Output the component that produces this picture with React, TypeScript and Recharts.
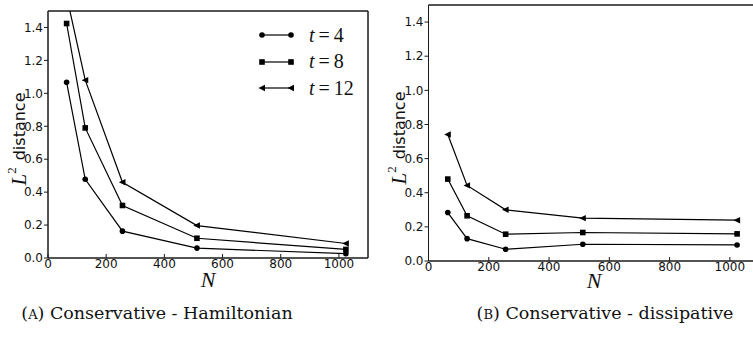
import React from 'react';
import { LineChart, Line, XAxis, YAxis, Legend, ReferenceArea } from 'recharts';

const nValues = [64, 128, 256, 512, 1024];
const xTicks = [0, 200, 400, 600, 800, 1000];
const yTicks = [0, 0.2, 0.4, 0.6, 0.8, 1.0, 1.2, 1.4];

// (a) Conservative - Hamiltonian
const hamT4 = [1.067, 0.478, 0.163, 0.06, 0.026];
const hamT8 = [1.424, 0.79, 0.319, 0.12, 0.052];
const hamT12 = [1.59, 1.08, 0.46, 0.197, 0.088];

// (b) Conservative - dissipative
const disT4 = [0.284, 0.131, 0.069, 0.098, 0.094];
const disT8 = [0.48, 0.265, 0.157, 0.167, 0.159];
const disT12 = [0.741, 0.443, 0.3, 0.251, 0.239];

const seriesKeys = ['t4', 't8', 't12'];
const seriesLabels = ['4', '8', '12'];
const markerKinds = ['circle', 'square', 'triangle'];

const hamData = nValues.map((n, i) => ({ n, t4: hamT4[i], t8: hamT8[i], t12: hamT12[i] }));
const disData = nValues.map((n, i) => ({ n, t4: disT4[i], t8: disT8[i], t12: disT12[i] }));

const INK = '#000';
const AXIS = '#1a1a1a';
const tickFont = { fontFamily: 'DejaVu Sans', fontSize: 12, fill: '#111' };

function Marker({ kind, cx, cy }: { kind: string; cx: number; cy: number }) {
  if (cx == null || cy == null) return null;
  if (kind === 'circle') return <circle cx={cx} cy={cy} r={2.8} fill={INK} />;
  if (kind === 'square') return <rect x={cx - 2.8} y={cy - 2.8} width={5.6} height={5.6} fill={INK} />;
  return <polygon points={`${cx - 3.6},${cy} ${cx + 3},${cy - 3.2} ${cx + 3},${cy + 3.2}`} fill={INK} />;
}

function LegendBox() {
  return (
    <div style={{ width: 110 }}>
      {seriesKeys.map((k, i) => (
        <div key={k} style={{ display: 'flex', alignItems: 'center', height: 26.5 }}>
          <svg width={36} height={12}>
            <line x1={4} y1={6} x2={33} y2={6} stroke={INK} strokeWidth={1.2} />
            <Marker kind={markerKinds[i]} cx={4} cy={6} />
            <Marker kind={markerKinds[i]} cx={33} cy={6} />
          </svg>
          <span style={{ marginLeft: 15, fontFamily: 'Liberation Serif', fontSize: 20, color: '#111', whiteSpace: 'nowrap' }}>
            <i>t</i>{'\u2009=\u2009'}{seriesLabels[i]}
          </span>
        </div>
      ))}
    </div>
  );
}

function Panel({
  data,
  width,
  height,
  margin,
  xAxisHeight,
  legend,
}: {
  data: any[];
  width: number;
  height: number;
  margin: any;
  xAxisHeight: number;
  legend?: boolean;
}) {
  return (
    <LineChart width={width} height={height} data={data} margin={margin}>
      <XAxis
        dataKey="n"
        type="number"
        domain={[0, 1100]}
        ticks={xTicks}
        allowDataOverflow
        height={xAxisHeight}
        stroke={AXIS}
        tickSize={-4}
        tickMargin={5}
        tick={tickFont}
        interval={0}
      />
      <XAxis
        xAxisId="top"
        orientation="top"
        dataKey="n"
        type="number"
        domain={[0, 1100]}
        ticks={xTicks}
        allowDataOverflow
        height={1}
        stroke={AXIS}
        tickSize={-4}
        tick={false}
      />
      <YAxis
        type="number"
        domain={[0, 1.5]}
        ticks={yTicks}
        allowDataOverflow
        width={48}
        stroke={AXIS}
        tickSize={4}
        tickMargin={1}
        tick={tickFont}
        tickFormatter={(v: number) => v.toFixed(1)}
        interval={0}
      />
      <YAxis
        yAxisId="right"
        orientation="right"
        type="number"
        domain={[0, 1.5]}
        ticks={yTicks}
        allowDataOverflow
        width={1}
        stroke={AXIS}
        tickSize={-4}
        tick={false}
      />
      <ReferenceArea
        x1={0}
        x2={1100}
        y1={0}
        y2={1.5}
        fill="none"
        stroke={AXIS}
        strokeWidth={1}
        ifOverflow="visible"
      />
      {legend && (
        <Legend
          layout="horizontal"
          verticalAlign="middle"
          align="center"
          wrapperStyle={{ top: 22, left: 258, width: 110 }}
          content={() => <LegendBox />}
        />
      )}
      {seriesKeys.map((k, i) => (
        <Line
          key={k}
          dataKey={k}
          type="linear"
          stroke={INK}
          strokeWidth={1.2}
          isAnimationActive={false}
          legendType="none"
          dot={(p: any) => <Marker key={`${k}-${p.index}`} kind={markerKinds[i]} cx={p.cx} cy={p.cy} />}
          activeDot={false}
        />
      ))}
    </LineChart>
  );
}

function YLabel({ x, y }: { x: number; y: number }) {
  return (
    <text transform={`translate(${x},${y}) rotate(-90)`} textAnchor="middle" dominantBaseline="central" fill="#111">
      <tspan fontFamily="Liberation Serif" fontStyle="italic" fontSize={21}>L</tspan>
      <tspan fontFamily="Liberation Serif" fontSize={13} dy={-8}>2</tspan>
      <tspan fontFamily="DejaVu Sans" fontSize={16} dy={8} dx={7}>distance</tspan>
    </text>
  );
}

export default function App() {
  return (
    <div style={{ position: 'absolute', left: 0, top: 0, width: 753, height: 339, overflow: 'hidden', background: '#fff' }}>
      <div style={{ position: 'absolute', left: 0, top: 0 }}>
        <Panel
          data={hamData}
          width={381}
          height={290}
          margin={{ top: 10, right: 12, bottom: 0, left: 0 }}
          xAxisHeight={32}
          legend
        />
      </div>
      <div style={{ position: 'absolute', left: 380, top: 0 }}>
        <Panel
          data={disData}
          width={381}
          height={290}
          margin={{ top: 4, right: 0, bottom: 0, left: 0.5 }}
          xAxisHeight={29}
        />
      </div>
      <svg width={753} height={339} style={{ position: 'absolute', left: 0, top: 0, pointerEvents: 'none' }}>
        <YLabel x={19} y={139} />
        <YLabel x={399} y={138} />
        <text x={208} y={287} textAnchor="middle" fontFamily="Liberation Serif" fontStyle="italic" fontSize={22} fill="#111">N</text>
        <text x={594} y={288} textAnchor="middle" fontFamily="Liberation Serif" fontStyle="italic" fontSize={22} fill="#111">N</text>
        <text x={157} y={319} textAnchor="middle" fontFamily="DejaVu Serif" fontSize={17.5} fill="#111">
          (<tspan fontSize={13}>A</tspan>) Conservative - Hamiltonian
        </text>
        <text x={605} y={319} textAnchor="middle" fontFamily="DejaVu Serif" fontSize={17.5} fill="#111">
          (<tspan fontSize={13}>B</tspan>) Conservative - dissipative
        </text>
      </svg>
    </div>
  );
}
